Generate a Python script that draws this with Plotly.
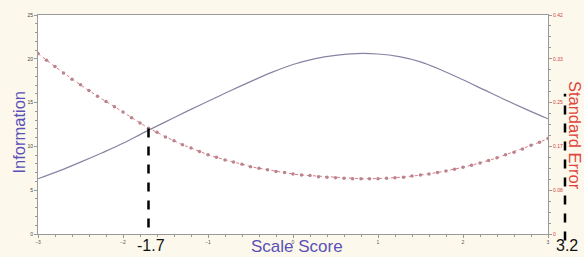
import plotly.graph_objects as go

# ---- data ----
info_theta = [-3.0, -2.75, -2.5, -2.25, -2.0, -1.75, -1.5, -1.25, -1.0, -0.75, -0.5, -0.25,
              0.0, 0.25, 0.5, 0.75, 1.0, 1.25, 1.5, 1.75, 2.0, 2.25, 2.5, 2.75, 3.0]
information = [6.3, 7.2, 8.2, 9.25, 10.35, 11.6, 12.8, 14.0, 15.15, 16.3, 17.4, 18.45,
               19.35, 20.0, 20.4, 20.6, 20.55, 20.25, 19.65, 18.7, 17.6, 16.45, 15.3, 14.2, 13.15]

se_theta = [-3.0, -2.9, -2.8, -2.7, -2.6, -2.5, -2.4, -2.3, -2.2, -2.1, -2.0, -1.9, -1.8, -1.7,
            -1.6, -1.5, -1.4, -1.3, -1.2, -1.1, -1.0, -0.9, -0.8, -0.7, -0.6, -0.5, -0.4, -0.3,
            -0.2, -0.1, 0.0, 0.1, 0.2, 0.3, 0.4, 0.5, 0.6, 0.7, 0.8, 0.9, 1.0, 1.1, 1.2, 1.3,
            1.4, 1.5, 1.6, 1.7, 1.8, 1.9, 2.0, 2.1, 2.2, 2.3, 2.4, 2.5, 2.6, 2.7, 2.8, 2.9, 3.0]
std_error = [0.346, 0.333, 0.321, 0.309, 0.297, 0.286, 0.275, 0.264, 0.254, 0.244, 0.234,
             0.223, 0.213, 0.203, 0.195, 0.186, 0.179, 0.171, 0.165, 0.158, 0.152, 0.147,
             0.142, 0.138, 0.134, 0.129, 0.126, 0.123, 0.120, 0.118, 0.115, 0.113, 0.112,
             0.110, 0.109, 0.108, 0.107, 0.106, 0.106, 0.106, 0.106, 0.107, 0.108, 0.109,
             0.111, 0.113, 0.115, 0.118, 0.121, 0.124, 0.128, 0.132, 0.136, 0.141, 0.146,
             0.152, 0.157, 0.163, 0.170, 0.176, 0.183]

x_ticks = [-3, -2, -1, 0, 1, 2, 3]
info_ticks = [0, 5, 10, 15, 20, 25]
se_tick_vals = [0, 0.084, 0.168, 0.252, 0.336, 0.42]
se_tick_text = ["0", "0.08", "0.17", "0.25", "0.33", "0.42"]

cross_score = -1.7      # where the two curves cross
cross_info = 12.05
upper_score = 3.2       # marked score beyond the axis

x_min, x_max = -3, 3
# -------------------------------------

blue_title = "#5a50b8"
red_title = "#e0443c"
font_fam = "Liberation Sans, Arial, sans-serif"

fig = go.Figure()
fig.add_trace(go.Scatter(x=info_theta, y=information, mode="lines",
                         line=dict(color="#8585a3", width=1.2, shape="spline"),
                         showlegend=False))
fig.add_trace(go.Scatter(x=se_theta, y=std_error, mode="lines+markers", yaxis="y2",
                         line=dict(color="#e07a7a", width=1, dash="dot"),
                         marker=dict(color="#b98490", size=3.5, symbol="circle"),
                         showlegend=False))

axis_common = dict(showline=True, linecolor="#9a9a9a", linewidth=1, showgrid=False,
                   zeroline=False, ticks="outside", ticklen=3, tickcolor="#9a9a9a")

fig.update_layout(
    width=584, height=257,
    margin=dict(l=38, r=36, t=13, b=22),
    paper_bgcolor="#fcf9ec",
    plot_bgcolor="#ffffff",
    font=dict(family=font_fam),
    xaxis=dict(range=[x_min, x_max], tickvals=x_ticks, mirror=True,
               tickfont=dict(size=5, color="#555"),
               minor=dict(dtick=0.2, ticks="outside", ticklen=2, tickcolor="#9a9a9a"),
               **axis_common),
    yaxis=dict(range=[0, 25], tickvals=info_ticks,
               tickfont=dict(size=5, color="#444"),
               minor=dict(dtick=1, ticks="outside", ticklen=2, tickcolor="#9a9a9a"),
               **axis_common),
    yaxis2=dict(range=[0, 0.42], overlaying="y", side="right",
                tickvals=se_tick_vals, ticktext=se_tick_text,
                tickfont=dict(size=5, color="#d04040"),
                minor=dict(dtick=0.021, ticks="outside", ticklen=2, tickcolor="#9a9a9a"),
                **axis_common),
)

# dashed marker lines
fig.add_shape(type="line", xref="x", yref="y", x0=cross_score, x1=cross_score,
              y0=cross_info, y1=0, line=dict(color="black", width=2.5, dash="dash"))
upper_frac = (upper_score - x_min) / (x_max - x_min)
fig.add_shape(type="line", xref="x domain", yref="paper", x0=upper_frac, x1=upper_frac,
              y0=-0.03, y1=0.64, line=dict(color="black", width=2.5, dash="dash"))

# labels
fig.add_annotation(x=cross_score, xref="x", xshift=2, y=-0.054, yref="paper",
                   xanchor="center", yanchor="middle",
                   text="-1.7", showarrow=False, font=dict(size=16, color="#111"))
fig.add_annotation(x=upper_frac, xref="x domain", xshift=2, y=-0.054, yref="paper",
                   xanchor="center", yanchor="middle", text="3.2", showarrow=False,
                   font=dict(size=16, color="#111"))
fig.add_annotation(x=0.508, xref="paper", y=-0.058, yref="paper",
                   xanchor="center", yanchor="middle",
                   text="Scale Score", showarrow=False, font=dict(size=17, color=blue_title))
fig.add_annotation(x=-0.037, xref="paper", y=0.464, yref="paper", textangle=-90,
                   xanchor="center", yanchor="middle",
                   text="Information", showarrow=False, font=dict(size=16.5, color=blue_title))
fig.add_annotation(x=1.052, xref="paper", y=0.45, yref="paper", textangle=90,
                   xanchor="center", yanchor="middle",
                   text="Standard Error", showarrow=False, font=dict(size=16.5, color=red_title))

fig.write_html("out.html", config={"displayModeBar": False},
               post_script="document.body.style.margin='0';")
